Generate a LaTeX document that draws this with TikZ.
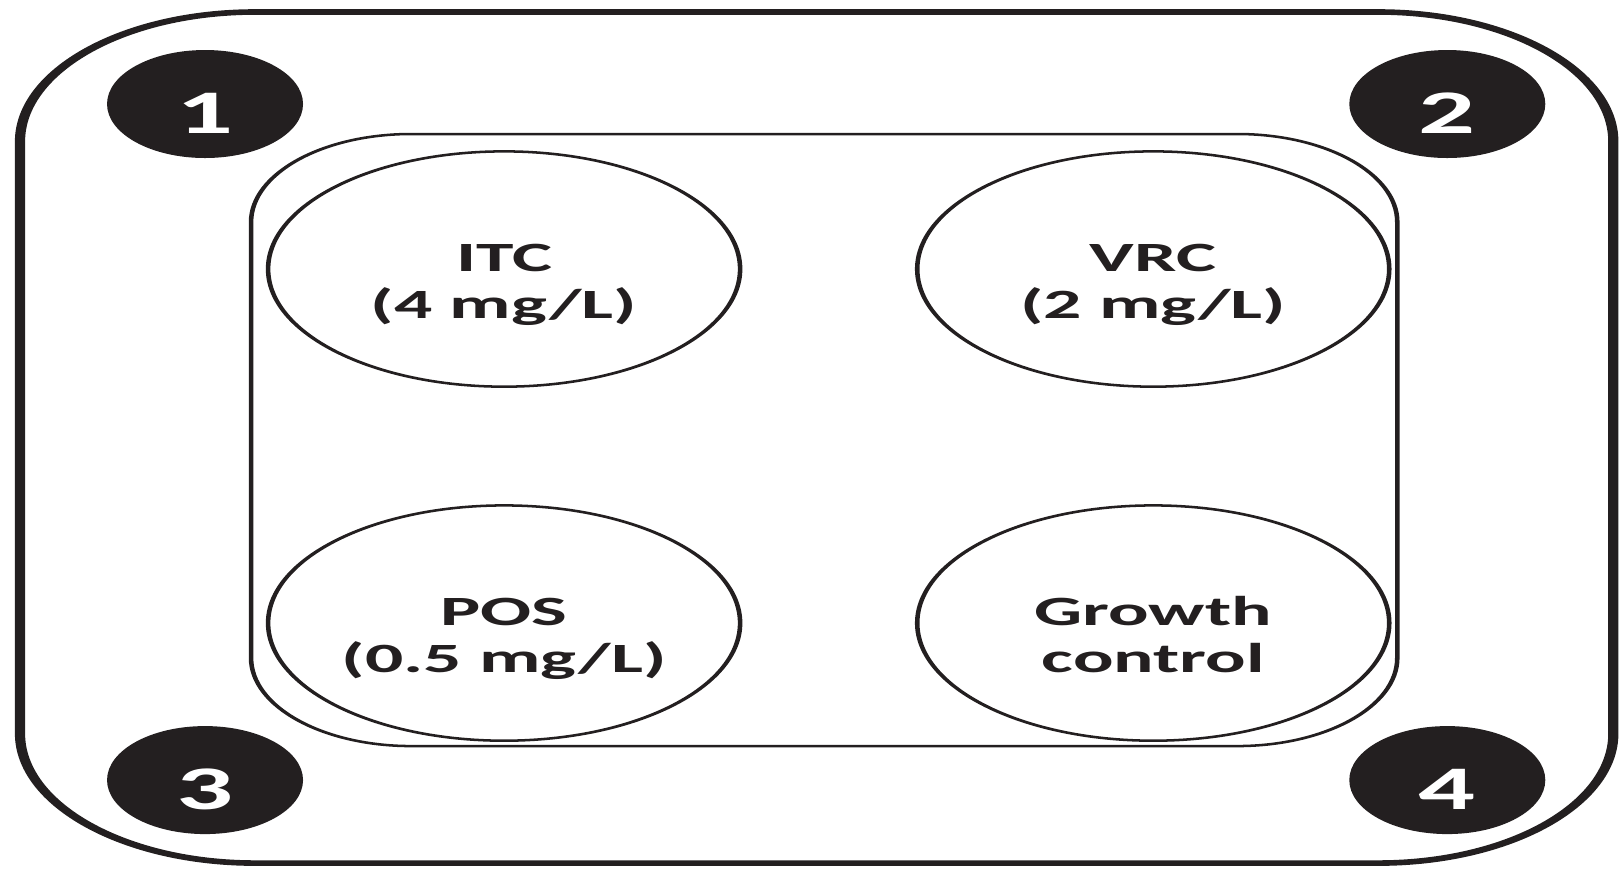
\documentclass[tikz,border=0pt]{standalone}
\usepackage{fontspec}
\setmainfont{Carlito}
\usetikzlibrary{shapes.geometric}
\definecolor{ink}{RGB}{35,31,32}

\begin{document}
\begin{tikzpicture}[
  well/.style={ellipse, draw=ink, line width=2.6pt, minimum width=9.44cm, minimum height=8.54cm, inner sep=0pt},
  welltext/.style={text=ink, font=\fontsize{43}{49}\selectfont\bfseries, align=center, yshift=-0.59cm},
  platenum/.style={circle, fill=ink, minimum size=3.92cm, inner sep=0pt},
  numtext/.style={text=white, font=\fontsize{64}{64}\selectfont\bfseries, yshift=-0.34cm},
]
\useasboundingbox (0,0) rectangle (32.38,-17.4);
\begin{scope}[transform canvas={yscale=0.551}, x=0.02cm, y=-0.0363cm]

% plate and drug zone
\draw[ink, line width=5.8pt, rounded corners=4.7cm] (20,12) rectangle (1613,863);
\draw[ink, line width=2.6pt, rounded corners=3.2cm] (251,134) rectangle (1397,746);

% wells
\node[well, label={[name=itc-lbl, welltext]center:\strut ITC\\\strut(4 mg/L)}] (itc) at (504,269) {};
\node[well, label={[name=vrc-lbl, welltext]center:\strut VRC\\\strut(2 mg/L)}] (vrc) at (1153,269) {};
\node[well, label={[name=pos-lbl, welltext]center:\strut POS\\\strut(0.5 mg/L)}] (pos) at (504,623) {};
\node[well, label={[name=gc-lbl, welltext]center:\strut Growth\\\strut control}] (gc) at (1153,623) {};

% corner numbers
\node[platenum, label={[name=n1-lbl, numtext]center:1}] (n1) at (205,104) {};
\node[platenum, label={[name=n2-lbl, numtext]center:2}] (n2) at (1447,104) {};
\node[platenum, label={[name=n3-lbl, numtext]center:3}] (n3) at (205,780) {};
\node[platenum, label={[name=n4-lbl, numtext]center:4}] (n4) at (1447,780) {};

\end{scope}
\end{tikzpicture}
\end{document}
